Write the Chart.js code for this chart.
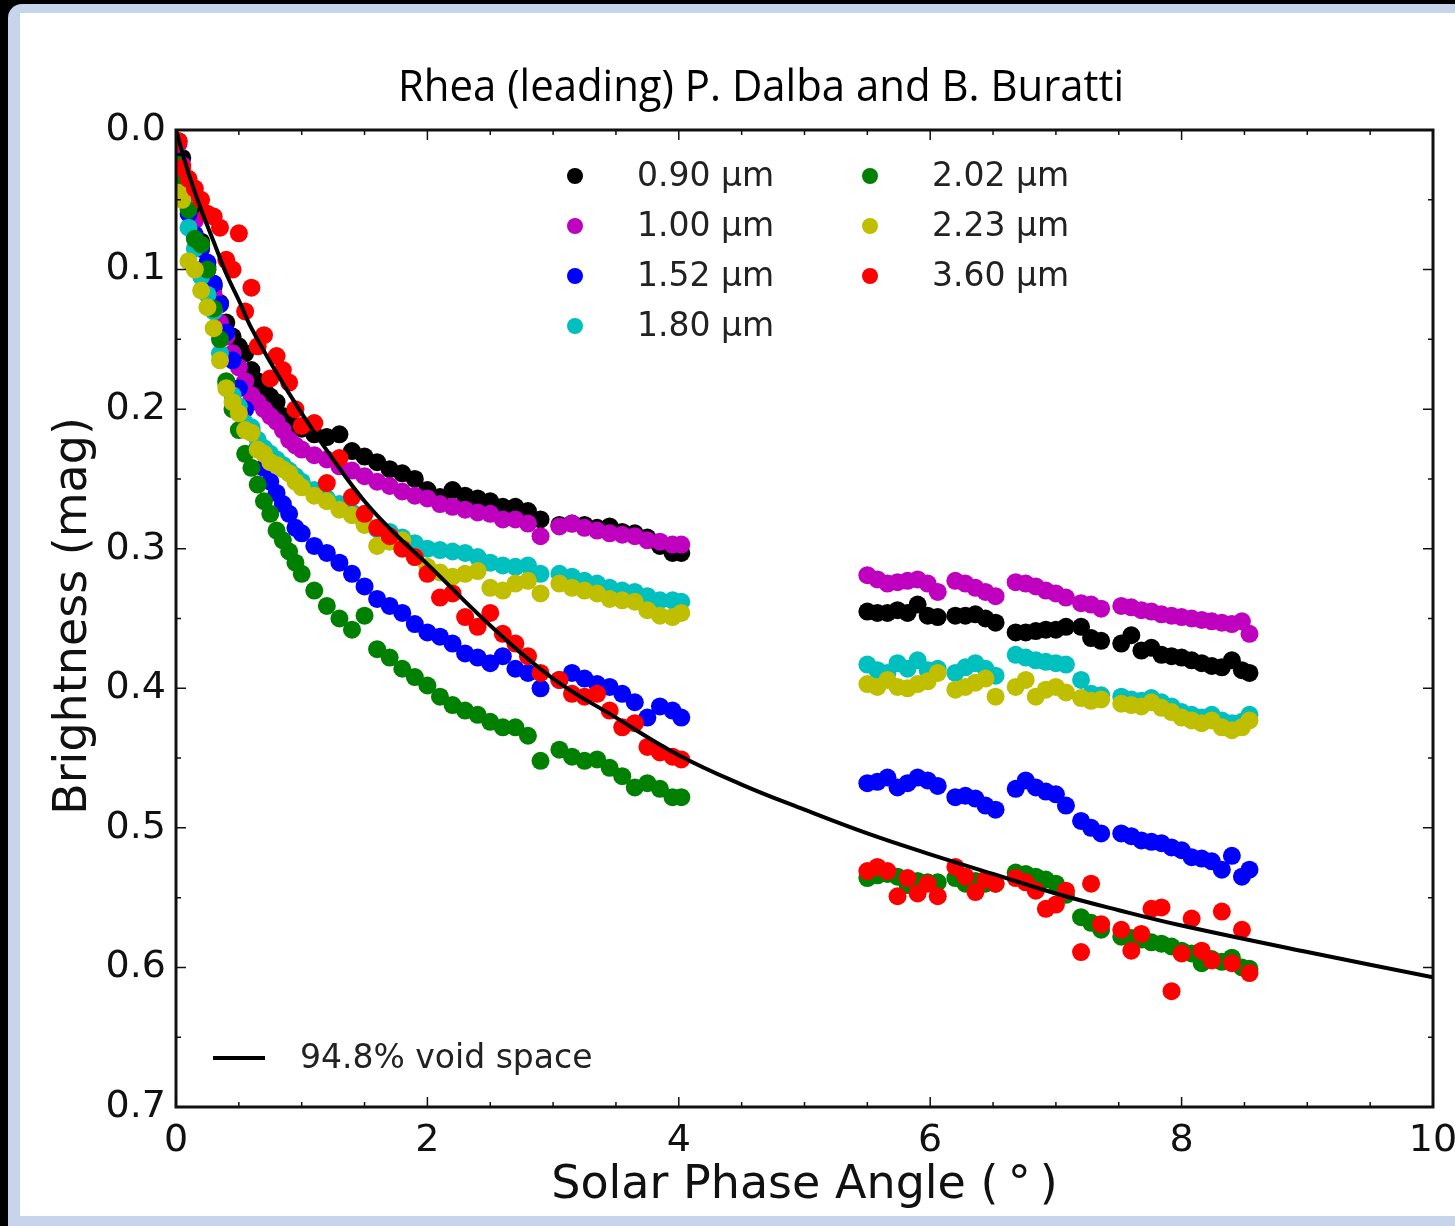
<!DOCTYPE html>
<html lang="en">
<head>
    <meta charset="UTF-8">
    <title>Rhea (leading) phase curve</title>
    <script src="https://cdn.jsdelivr.net/npm/chart.js"></script>
    <style>
        body { margin: 0; background: #000; width: 1455px; height: 1226px; overflow: hidden; }
        #frame { position: absolute; left: 8px; top: 4px; width: 1447px; height: 1222px; background: #c6d5eb; border-top-left-radius: 14px; }
        #paper { position: absolute; left: 20px; top: 13px; width: 1435px; height: 1203px; background: #fff; }
        #phaseChart { position: absolute; left: 0; top: 0; }
    </style>
</head>
<body>
    <div id="frame"></div>
    <div id="paper"></div>
    <canvas id="phaseChart" width="1455" height="1226"></canvas>

    <script>
        // solar phase angles (deg), shared by every wavelength
        const phase = [
            0.02, 0.05, 0.1, 0.15, 0.2, 0.25, 0.3, 0.35, 0.4, 0.45, 0.5, 0.55, 0.6, 0.65, 0.7, 0.75, 0.8, 0.85, 0.9, 0.95,
            1.0, 1.1, 1.2, 1.3, 1.4, 1.5, 1.6, 1.7, 1.8, 1.9, 2.0, 2.1, 2.2, 2.3, 2.4, 2.5, 2.6, 2.7, 2.8, 2.9,
            3.05, 3.15, 3.25, 3.35, 3.45, 3.55, 3.65, 3.75, 3.85, 3.95, 4.02,
            5.5, 5.58, 5.66, 5.74, 5.82, 5.9, 5.98, 6.06, 6.2, 6.28, 6.36, 6.44, 6.52,
            6.68, 6.76, 6.84, 6.92, 7.0, 7.08, 7.2, 7.28, 7.36,
            7.52, 7.6, 7.68, 7.76, 7.84, 7.92, 8.0, 8.08, 8.16, 8.24, 8.32, 8.4, 8.48, 8.54
        ];

        // brightness (mag) per wavelength
        const mag090 = [
            0.008, 0.020, 0.040, 0.060, 0.080, 0.098, 0.112, 0.124, 0.138, 0.148, 0.155, 0.160, 0.172, 0.180, 0.185, 0.191, 0.195, 0.205, 0.210, 0.212,
            0.214, 0.218, 0.220, 0.218, 0.230, 0.234, 0.238, 0.243, 0.246, 0.250, 0.258, 0.263, 0.258, 0.262, 0.264, 0.266, 0.270, 0.270, 0.273, 0.279,
            0.283, 0.282, 0.283, 0.285, 0.284, 0.288, 0.289, 0.292, 0.298, 0.303, 0.303,
            0.345, 0.346, 0.346, 0.344, 0.346, 0.340, 0.348, 0.349, 0.348, 0.348, 0.347, 0.350, 0.353,
            0.360, 0.360, 0.359, 0.358, 0.358, 0.356, 0.356, 0.364, 0.366,
            0.368, 0.362, 0.373, 0.371, 0.376, 0.377, 0.378, 0.380, 0.382, 0.384, 0.385, 0.380, 0.387, 0.389
        ];
        const mag100 = [
            0.010, 0.025, 0.045, 0.065, 0.085, 0.100, 0.118, 0.138, 0.148, 0.160, 0.170, 0.180, 0.190, 0.195, 0.200, 0.205, 0.209, 0.215, 0.222, 0.226,
            0.229, 0.233, 0.236, 0.241, 0.244, 0.248, 0.252, 0.255, 0.259, 0.262, 0.264, 0.268, 0.270, 0.272, 0.274, 0.275, 0.279, 0.279, 0.282, 0.291,
            0.284, 0.282, 0.285, 0.287, 0.289, 0.290, 0.291, 0.294, 0.295, 0.297, 0.297,
            0.319, 0.322, 0.325, 0.324, 0.323, 0.322, 0.325, 0.331, 0.323, 0.325, 0.328, 0.331, 0.334,
            0.324, 0.325, 0.327, 0.330, 0.332, 0.335, 0.339, 0.340, 0.343,
            0.341, 0.342, 0.344, 0.345, 0.347, 0.348, 0.349, 0.350, 0.351, 0.352, 0.353, 0.354, 0.352, 0.361
        ];
        const mag152 = [
            0.025, 0.040, 0.060, 0.075, 0.085, 0.095, 0.110, 0.125, 0.145, 0.165, 0.185, 0.200, 0.215, 0.228, 0.242, 0.252, 0.260, 0.268, 0.275, 0.285,
            0.289, 0.298, 0.303, 0.310, 0.318, 0.327, 0.336, 0.341, 0.346, 0.354, 0.360, 0.363, 0.368, 0.375, 0.378, 0.382, 0.377, 0.386, 0.389, 0.400,
            0.394, 0.389, 0.393, 0.397, 0.399, 0.404, 0.410, 0.421, 0.413, 0.416, 0.421,
            0.468, 0.467, 0.464, 0.471, 0.468, 0.464, 0.466, 0.470, 0.478, 0.477, 0.479, 0.484, 0.487,
            0.472, 0.466, 0.471, 0.474, 0.476, 0.484, 0.495, 0.500, 0.504,
            0.504, 0.506, 0.509, 0.510, 0.511, 0.514, 0.516, 0.521, 0.522, 0.524, 0.530, 0.520, 0.535, 0.530
        ];
        const mag180 = [
            0.040, 0.046, 0.070, 0.085, 0.105, 0.118, 0.130, 0.160, 0.182, 0.190, 0.198, 0.210, 0.213, 0.222, 0.228, 0.232, 0.236, 0.240, 0.244, 0.248,
            0.252, 0.258, 0.264, 0.268, 0.274, 0.282, 0.286, 0.288, 0.292, 0.296, 0.300, 0.301, 0.302, 0.303, 0.306, 0.310, 0.312, 0.313, 0.312, 0.318,
            0.318, 0.320, 0.323, 0.325, 0.328, 0.330, 0.331, 0.334, 0.337, 0.337, 0.338,
            0.383, 0.387, 0.389, 0.382, 0.386, 0.380, 0.387, 0.386, 0.389, 0.385, 0.382, 0.386, 0.391,
            0.376, 0.378, 0.380, 0.381, 0.382, 0.383, 0.394, 0.404, 0.405,
            0.406, 0.408, 0.409, 0.407, 0.410, 0.413, 0.417, 0.419, 0.421, 0.419, 0.423, 0.425, 0.424, 0.419
        ];
        const mag202 = [
            0.025, 0.035, 0.057, 0.078, 0.082, 0.100, 0.128, 0.150, 0.180, 0.200, 0.215, 0.232, 0.242, 0.254, 0.266, 0.275, 0.287, 0.294, 0.302, 0.310,
            0.318, 0.330, 0.341, 0.350, 0.358, 0.348, 0.372, 0.378, 0.386, 0.392, 0.398, 0.406, 0.412, 0.416, 0.419, 0.424, 0.428, 0.428, 0.434, 0.452,
            0.444, 0.449, 0.452, 0.451, 0.457, 0.463, 0.471, 0.468, 0.472, 0.478, 0.478,
            0.536, 0.534, 0.533, 0.535, 0.541, 0.538, 0.539, 0.539, 0.536, 0.540, 0.538, 0.540, 0.540,
            0.532, 0.533, 0.535, 0.537, 0.540, 0.548, 0.564, 0.568, 0.573,
            0.578, 0.579, 0.580, 0.582, 0.583, 0.585, 0.588, 0.590, 0.597, 0.594, 0.596, 0.593, 0.600, 0.601
        ];
        const mag223 = [
            0.045, 0.050, 0.094, 0.100, 0.115, 0.127, 0.142, 0.165, 0.185, 0.195, 0.203, 0.215, 0.217, 0.229, 0.232, 0.238, 0.240, 0.243, 0.246, 0.252,
            0.256, 0.262, 0.266, 0.272, 0.276, 0.283, 0.298, 0.295, 0.294, 0.306, 0.313, 0.317, 0.320, 0.318, 0.316, 0.328, 0.330, 0.325, 0.323, 0.332,
            0.325, 0.328, 0.330, 0.332, 0.336, 0.337, 0.338, 0.344, 0.348, 0.349, 0.346,
            0.397, 0.399, 0.394, 0.399, 0.400, 0.397, 0.395, 0.389, 0.401, 0.399, 0.396, 0.393, 0.406,
            0.399, 0.394, 0.406, 0.401, 0.399, 0.403, 0.407, 0.409, 0.408,
            0.411, 0.412, 0.413, 0.410, 0.414, 0.417, 0.421, 0.423, 0.425, 0.423, 0.428, 0.430, 0.428, 0.423
        ];
        const mag360 = [
            0.008, 0.027, 0.035, 0.042, 0.050, 0.060, 0.062, 0.070, 0.093, 0.100, 0.074, 0.130, 0.113, 0.155, 0.147, 0.178, 0.162, 0.172, 0.181, 0.200,
            0.212, 0.210, 0.253, 0.235, 0.263, 0.275, 0.285, 0.291, 0.300, 0.306, 0.318, 0.335, 0.332, 0.349, 0.356, 0.346, 0.361, 0.368, 0.377, 0.389,
            0.394, 0.404, 0.406, 0.404, 0.416, 0.428, 0.425, 0.442, 0.446, 0.449, 0.451,
            0.531, 0.528, 0.531, 0.549, 0.536, 0.547, 0.540, 0.549, 0.528, 0.535, 0.546, 0.537, 0.540,
            0.536, 0.539, 0.545, 0.558, 0.555, 0.545, 0.589, 0.540, 0.569,
            0.573, 0.588, 0.576, 0.558, 0.557, 0.617, 0.590, 0.565, 0.588, 0.595, 0.560, 0.597, 0.573, 0.604
        ];

        // model curve, 94.8% void space
        const modelPhase = [0, 0.05, 0.1, 0.2, 0.3, 0.4, 0.5, 0.6, 0.8, 1.0, 1.25, 1.5, 1.75, 2.0, 2.5, 3.0, 3.5, 4.0, 4.5, 5.0, 5.5, 6.0, 6.5, 7.0, 7.5, 8.0, 9.0, 10.0];
        const modelMag = [0.0, 0.016, 0.031, 0.057, 0.080, 0.103, 0.122, 0.142, 0.174, 0.203, 0.236, 0.266, 0.290, 0.311, 0.355, 0.393, 0.421, 0.448, 0.469, 0.487, 0.504, 0.519, 0.533, 0.547, 0.559, 0.570, 0.589, 0.607];

        const labels = ['0.90 µm', '1.00 µm', '1.52 µm', '1.80 µm', '2.02 µm', '2.23 µm', '3.60 µm'];
        const colors = ['#000000', '#bf00bf', '#0000ff', '#00bfbf', '#008000', '#bfbf00', '#ff0000'];
        const series = [mag090, mag100, mag152, mag180, mag202, mag223, mag360];
        const modelLabel = '94.8% void space';

        const font = '"DejaVu Sans", Verdana, sans-serif';

        function toPoints(xs, ys) {
            return xs.map((x, i) => ({ x: x, y: ys[i] })).filter(p => p.y !== null);
        }

        const datasets = series.map((ys, i) => ({
            label: labels[i],
            data: toPoints(phase, ys),
            backgroundColor: colors[i],
            borderColor: colors[i],
            borderWidth: 0,
            pointRadius: 9,
            order: series.length - i,   // later wavelengths on top
            clip: 0
        }));
        datasets.push({
            type: 'line',
            label: modelLabel,
            data: toPoints(modelPhase, modelMag),
            borderColor: '#000',
            borderWidth: 4,
            pointRadius: 0,
            tension: 0.4,
            fill: false,
            order: 0,
            clip: 0
        });

        // title, axis labels, legends, frame and inward ticks
        const decor = {
            id: 'decor',
            afterDraw(chart) {
                const { ctx, chartArea: a, scales: { x, y } } = chart;
                ctx.save();

                // title
                ctx.fillStyle = '#000';
                ctx.font = '44px "Liberation Sans Narrow", "Open Sans", sans-serif';
                const title = 'Rhea (leading) P. Dalba and B. Buratti';
                const tw = ctx.measureText(title).width;
                ctx.save();
                ctx.translate(761, 101);
                ctx.scale(726 / tw, 1);
                ctx.textAlign = 'center';
                ctx.textBaseline = 'alphabetic';
                ctx.fillText(title, 0, 0);
                ctx.restore();

                // axis labels
                ctx.fillStyle = '#111';
                ctx.font = '46px ' + font;
                ctx.textAlign = 'center';
                ctx.textBaseline = 'alphabetic';
                ctx.fillText('Solar Phase Angle (\u2009°\u2009)', (a.left + a.right) / 2, 1198);
                ctx.save();
                ctx.translate(86, 616);
                ctx.rotate(-Math.PI / 2);
                ctx.fillText('Brightness (mag)', 0, 0);
                ctx.restore();

                // frame
                ctx.strokeStyle = '#111';
                ctx.lineWidth = 3;
                ctx.strokeRect(a.left, a.top, a.right - a.left, a.bottom - a.top);

                // inward ticks on all four sides
                ctx.lineWidth = 1.5;
                ctx.beginPath();
                for (let i = 0; i <= 20; i++) {
                    const v = i * 0.5;
                    const px = x.getPixelForValue(v);
                    const len = (i % 4 === 0) ? 10 : 5;
                    ctx.moveTo(px, a.bottom); ctx.lineTo(px, a.bottom - len);
                    ctx.moveTo(px, a.top); ctx.lineTo(px, a.top + len);
                }
                for (let i = 0; i <= 14; i++) {
                    const v = i * 0.05;
                    const py = y.getPixelForValue(v);
                    const len = (i % 2 === 0) ? 10 : 5;
                    ctx.moveTo(a.left, py); ctx.lineTo(a.left + len, py);
                    ctx.moveTo(a.right, py); ctx.lineTo(a.right - len, py);
                }
                ctx.stroke();

                // wavelength legend, two columns
                ctx.font = '33px ' + font;
                ctx.textAlign = 'left';
                ctx.textBaseline = 'middle';
                labels.forEach((lab, i) => {
                    const col = i < 4 ? 0 : 1;
                    const row = i < 4 ? i : i - 4;
                    const cy = 176 + row * 50;
                    const dx = col === 0 ? 575 : 870;
                    ctx.fillStyle = colors[i];
                    ctx.beginPath();
                    ctx.arc(dx, cy, 8, 0, Math.PI * 2);
                    ctx.fill();
                    ctx.fillStyle = '#222';
                    ctx.fillText(lab, dx + 62, cy + 1);
                });

                // model legend
                ctx.strokeStyle = '#000';
                ctx.lineWidth = 4;
                ctx.beginPath();
                ctx.moveTo(213, 1058);
                ctx.lineTo(265, 1058);
                ctx.stroke();
                ctx.fillStyle = '#222';
                ctx.fillText(modelLabel, 300, 1059);

                ctx.restore();
            }
        };

        const ctx = document.getElementById('phaseChart').getContext('2d');
        const phaseChart = new Chart(ctx, {
            type: 'scatter',
            data: { datasets: datasets },
            options: {
                responsive: false,
                animation: false,
                devicePixelRatio: 1,
                layout: { padding: { top: 130, right: 22, left: 0, bottom: 0 } },
                plugins: {
                    legend: { display: false },
                    title: { display: false },
                    tooltip: { enabled: false }
                },
                scales: {
                    x: {
                        type: 'linear',
                        min: 0,
                        max: 10,
                        grid: { display: false, drawTicks: false },
                        border: { display: false },
                        ticks: {
                            stepSize: 2,
                            padding: 11,
                            color: '#111',
                            font: { family: font, size: 38 },
                            maxRotation: 0
                        },
                        afterFit(scale) {
                            scale.height = 119;
                            scale.paddingLeft = 0;
                            scale.paddingRight = 0;
                        }
                    },
                    y: {
                        type: 'linear',
                        reverse: true,
                        min: 0,
                        max: 0.7,
                        grid: { display: false, drawTicks: false },
                        border: { display: false },
                        ticks: {
                            stepSize: 0.1,
                            padding: 10,
                            color: '#111',
                            font: { family: font, size: 38 },
                            callback: v => v.toFixed(1)
                        },
                        afterFit(scale) {
                            scale.width = 176;
                            scale.paddingTop = 0;
                            scale.paddingBottom = 0;
                        }
                    }
                }
            },
            plugins: [decor]
        });
    </script>
</body>
</html>
